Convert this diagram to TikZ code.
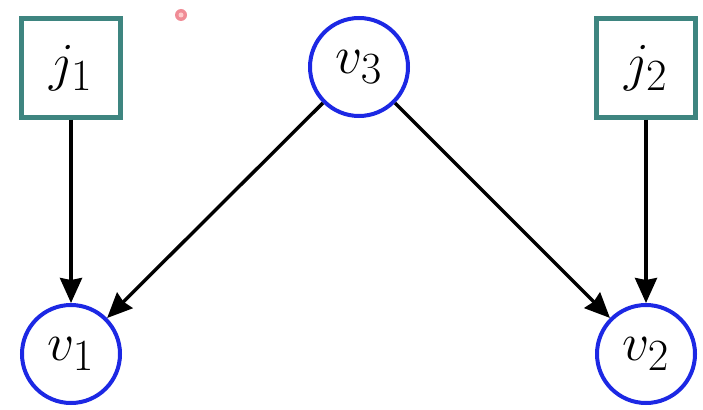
\documentclass[tikz,border=0pt]{standalone}
\usepackage{graphicx}
\usetikzlibrary{arrows.meta}
\definecolor{boxteal}{RGB}{62,133,128}
\definecolor{nodeblue}{RGB}{28,40,228}
\definecolor{dotpink}{RGB}{240,140,150}
\newcommand{\mylbl}[1]{\scalebox{2.15}{\Huge$#1$}}
\begin{document}
\begin{tikzpicture}[x=1pt,y=-1pt,
  factor/.style={draw=boxteal,line width=5pt,fill=white,minimum width=99pt,minimum height=98pt,inner sep=0pt},
  var/.style={circle,draw=nodeblue,line width=4pt,fill=white,minimum size=98pt,inner sep=0pt},
  edge/.style={line width=3.4pt,-{Stealth[length=25pt,width=22pt,inset=2pt]}}]
\useasboundingbox (0,0) rectangle (703,409);
\fill[dotpink] (181,15) circle (6pt);
\fill[red!20] (181,15) circle (2.5pt);
\node[factor] (j1) at (71,68) {\mylbl{j_1}};
\node[factor] (j2) at (646,68) {\mylbl{j_2}};
\node[var] (v3) at (359,67) {\mylbl{v_3}};
\node[var] (v1) at (71,354) {\mylbl{v_1}};
\node[var] (v2) at (646,354) {\mylbl{v_2}};
\draw[edge] (j1) -- (v1);
\draw[edge] (j2) -- (v2);
\draw[edge] (v3) -- (v1);
\draw[edge] (v3) -- (v2);
\end{tikzpicture}
\end{document}
